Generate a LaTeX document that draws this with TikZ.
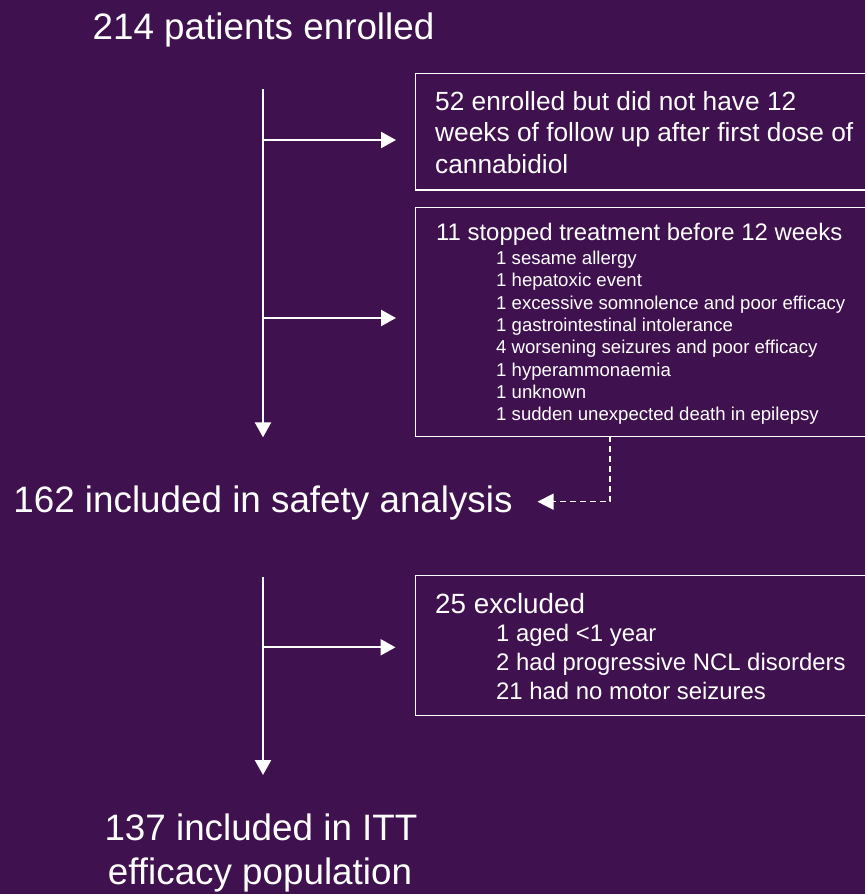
\documentclass[tikz,border=0pt]{standalone}
\usepackage{fontspec}
\setmainfont{Liberation Sans}
\usetikzlibrary{arrows.meta}
\definecolor{bgpurple}{HTML}{40114F}
\begin{document}
\begin{tikzpicture}[x=1pt,y=-1pt,
  big/.style={font=\fontsize{36.8}{44}\selectfont, text=white, inner sep=0pt, anchor=base},
  boxtxt/.style={font=\fontsize{26.3}{31.5}\selectfont, text=white, inner sep=0pt, anchor=base west},
  midtxt/.style={font=\fontsize{23.9}{28}\selectfont, text=white, inner sep=0pt, anchor=base west},
  hdtxt/.style={font=\fontsize{27.8}{32}\selectfont, text=white, inner sep=0pt, anchor=base west},
  smalltxt/.style={font=\fontsize{18.6}{22}\selectfont, text=white, inner sep=0pt, anchor=base west},
  flowbox/.style={draw=white, line width=1.3pt, rectangle, inner sep=0pt, anchor=north west, minimum width=480pt},
  arr/.style={draw=white, line width=2.3pt, -{Triangle[length=15pt,width=16pt]}},
  dasharr/.style={draw=white, line width=1.3pt, dash pattern=on 6pt off 4pt, -{Triangle[length=16pt,width=16pt]}}
]
\useasboundingbox (0,0) rectangle (865,894);
\clip (0,0) rectangle (865,894);
\fill[bgpurple] (0,0) rectangle (865,894);

% main texts
\node[big] (top) at (263.5,39) {214 patients enrolled};
\node[big] (safety) at (263,512.7) {162 included in safety analysis};
\node[big] (itt1) at (261,840) {137 included in ITT};
\node[big] (itt2) at (260,884) {efficacy population};

% boxes
\node[flowbox, minimum height=116.6pt] (b1) at (415,72.7) {};
\node[flowbox, minimum height=229.3pt] (b2) at (415,206.7) {};
\node[flowbox, minimum height=140pt] (b3) at (415,575) {};

% box 1 text
\node[boxtxt] (b1l1) at (435,110) {52 enrolled but did not have 12};
\node[boxtxt] (b1l2) at (435,141.5) {weeks of follow up after first dose of};
\node[boxtxt] (b1l3) at (435,173) {cannabidiol};

% box 2 text
\node[midtxt] (b2t) at (436,240) {11 stopped treatment before 12 weeks};
\node[smalltxt] (b2a) at (496,264.5) {1 sesame allergy};
\node[smalltxt] (b2b) at (496,286.8) {1 hepatoxic event};
\node[smalltxt] (b2c) at (496,309.1) {1 excessive somnolence and poor efficacy};
\node[smalltxt] (b2d) at (496,331.4) {1 gastrointestinal intolerance};
\node[smalltxt] (b2e) at (496,353.7) {4 worsening seizures and poor efficacy};
\node[smalltxt] (b2f) at (496,376.0) {1 hyperammonaemia};
\node[smalltxt] (b2g) at (496,398.3) {1 unknown};
\node[smalltxt] (b2h) at (496,420.6) {1 sudden unexpected death in epilepsy};

% box 3 text
\node[hdtxt] (b3t) at (435,613.3) {25 excluded};
\node[midtxt] (b3a) at (496,641.7) {1 aged <1 year};
\node[midtxt] (b3b) at (496,670.5) {2 had progressive NCL disorders};
\node[midtxt] (b3c) at (496,699.3) {21 had no motor seizures};

% connector points
\coordinate (v1s) at (263,89);
\coordinate (v1e) at (263,437.3);
\coordinate (j1) at (263,140);
\coordinate (a1) at (396,140);
\coordinate (j2) at (263,318);
\coordinate (a2) at (396,318);
\coordinate (d1) at (610,436);
\coordinate (d2) at (537.5,501.7);
\coordinate (v2s) at (263,576.7);
\coordinate (v2e) at (263,775);
\coordinate (j3) at (263,647.3);
\coordinate (a3) at (395.5,647.3);

% connectors
\draw[arr] (v1s) -- (v1e);
\draw[arr] (j1) -- (a1);
\draw[arr] (j2) -- (a2);
\draw[dasharr] (d1) |- (d2);
\draw[arr] (v2s) -- (v2e);
\draw[arr] (j3) -- (a3);
\end{tikzpicture}
\end{document}
